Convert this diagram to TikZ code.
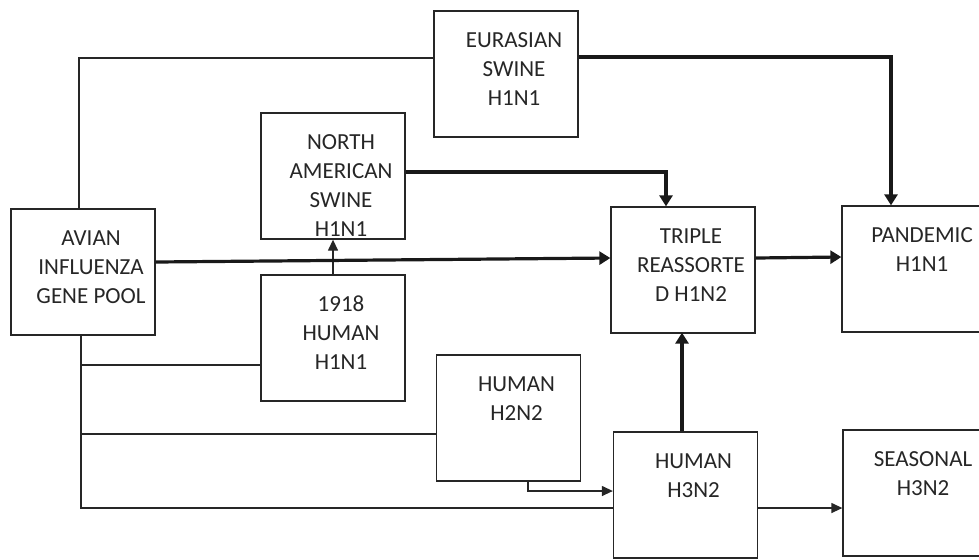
\documentclass[tikz,border=0pt]{standalone}
\usepackage{fontspec}
\setmainfont{Carlito}
\usetikzlibrary{arrows.meta}
\newcommand\boxlines[1]{\begin{tabular}[t]{@{\hspace{8pt}}c@{}}#1\end{tabular}}

\begin{document}
\begin{tikzpicture}[x=0.5pt,y=-0.5pt,
  every node/.style={rectangle,draw=black!85,line width=0.65pt,text=black!85,minimum width=72pt,inner sep=0pt,text height=18pt,text depth=45pt,font=\fontsize{11.5}{14.5}\selectfont},
  link/.style={draw=black!85,line width=0.65pt},
  thin arrow/.style={link,-{Triangle[length=5.5pt,width=5pt]}},
  thick arrow/.style={draw=black!90,line width=1.6pt,-{Triangle[length=5.5pt,width=6.5pt]}}]
  \useasboundingbox (0,0) rectangle (979,559);
  \node (avian) at (83,272) {\boxlines{AVIAN\\INFLUENZA\\GENE POOL}};
  \node (eurasian) at (506,74) {\boxlines{EURASIAN\\SWINE\\H1N1}};
  \node (namerican) at (333,176) {\boxlines{NORTH\\AMERICAN\\SWINE\\H1N1}};
  \node (h1918) at (333,338) {\boxlines{1918\\HUMAN\\H1N1}};
  \node (h2n2) at (508.5,418) {\boxlines{HUMAN\\H2N2}};
  \node (triple) at (683,270) {\boxlines{TRIPLE\\REASSORTE\\D H1N2}};
  \node (pandemic) at (914,269) {\boxlines{PANDEMIC\\H1N1}};
  \node (h3n2) at (685.5,495) {\boxlines{HUMAN\\H3N2}};
  \node (seasonal) at (915,493) {\boxlines{SEASONAL\\H3N2}};
  % plain links out of the gene pool
  \draw[link] ([xshift=-2pt]avian.north) |- ([yshift=8pt]eurasian.west);
  \draw[link] ([xshift=-1pt]avian.south) |- ([yshift=-13.5pt]h1918.west);
  \draw[link] ([xshift=-1pt]avian.south) |- ([yshift=-8pt]h2n2.west);
  \draw[link] ([xshift=-1pt]avian.south) |- ([yshift=-6.5pt]h3n2.west);
  % thin arrows
  \draw[thin arrow] (h1918.north) -- (namerican.south);
  \draw[thin arrow] ([xshift=9.75pt]h2n2.south) |- ([yshift=2pt]h3n2.west);
  \draw[thin arrow] ([yshift=-6.5pt]h3n2.east) -- ([yshift=-7.5pt]seasonal.west);
  % thick arrows
  \draw[thick arrow] ([yshift=8.5pt]eurasian.east) -| ([xshift=-11.5pt]pandemic.north);
  \draw[thick arrow] ([yshift=2pt]namerican.east) -| ([xshift=-8.5pt]triple.north);
  \draw[thick arrow] ([yshift=5pt]avian.east) -- ([yshift=6pt]triple.west);
  \draw[thick arrow] ([yshift=6pt]triple.east) -- ([yshift=6pt]pandemic.west);
  \draw[thick arrow] ([xshift=-1.75pt]h3n2.north) -- ([xshift=-1.75pt,yshift=0.5pt]h3n2.north |- triple.south);
\end{tikzpicture}
\end{document}
